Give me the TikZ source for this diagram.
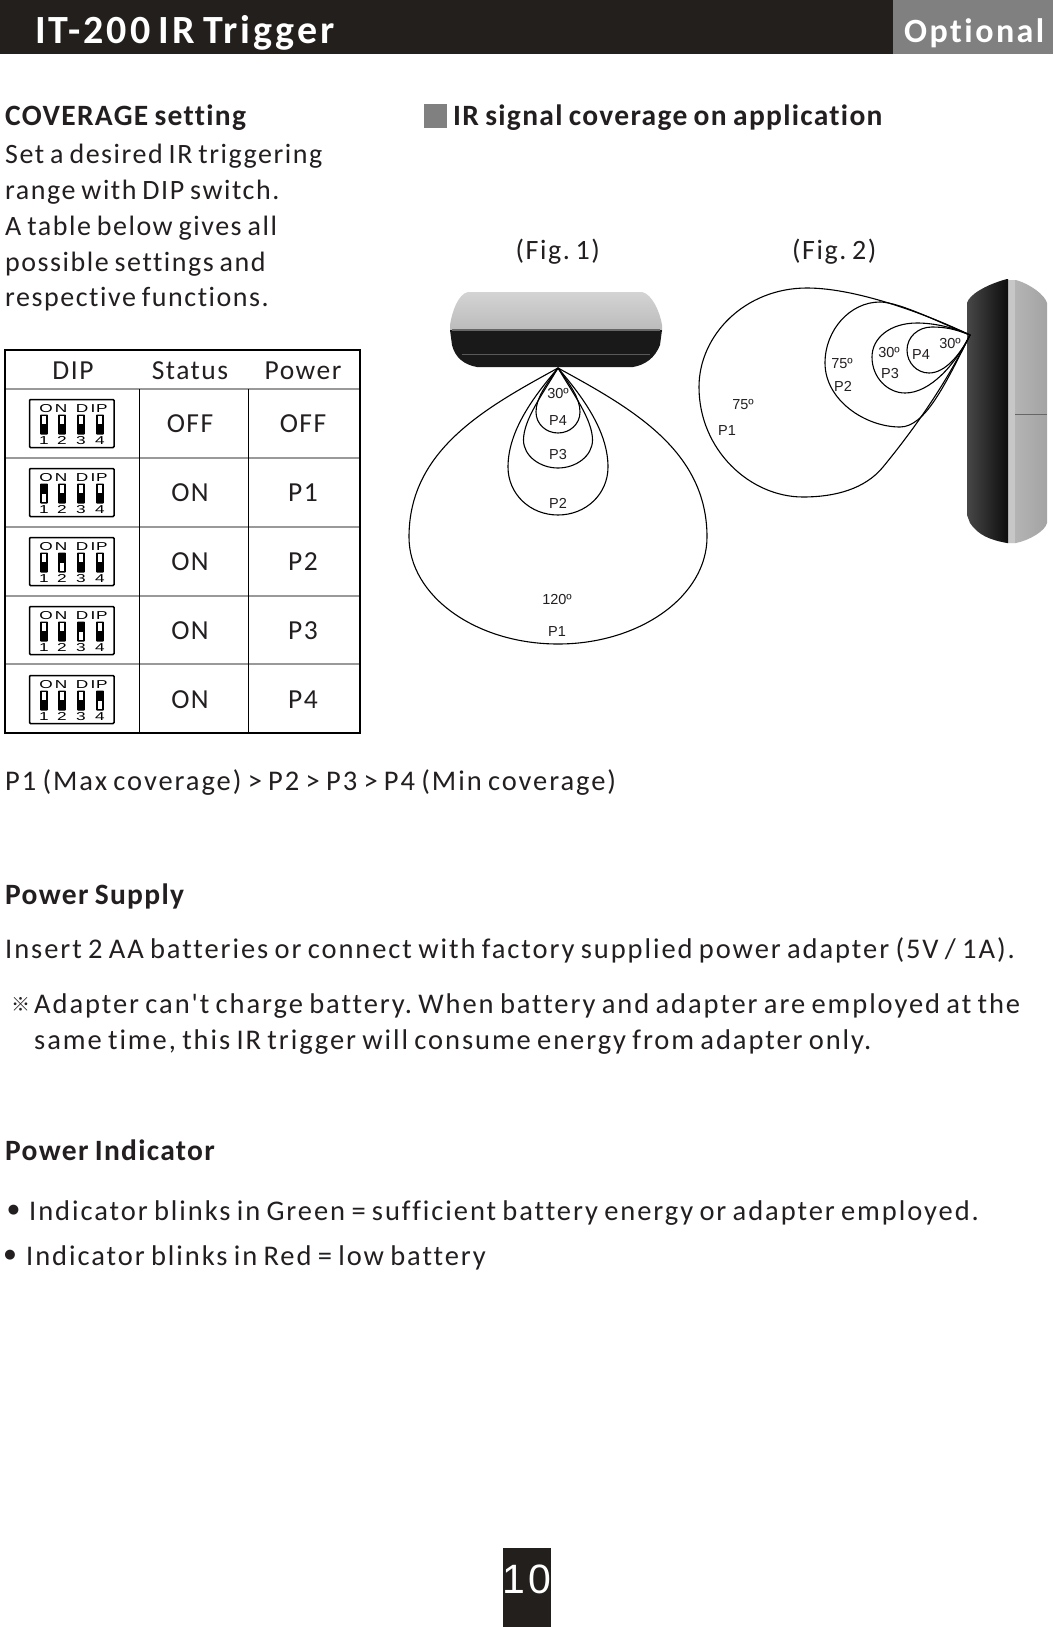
\documentclass[tikz,border=0pt]{standalone}
\usepackage{fontspec}
\frenchspacing
\newfontfamily\bodyfont{Carlito}[LetterSpace=5.5,WordSpace=0.75,Ligatures=NoCommon]
\newfontfamily\longfont{Carlito}[LetterSpace=6.8,WordSpace=0.75,Ligatures=NoCommon]
\newfontfamily\boldfont{Carlito Bold}[LetterSpace=4.4,WordSpace=0.8,Ligatures=NoCommon]
\newfontfamily\titlefont{Carlito Bold}[LetterSpace=7.2,WordSpace=0.7,Ligatures=NoCommon]
\newfontfamily\labelfont{Liberation Sans}
\newfontfamily\widefont{Liberation Sans}[LetterSpace=9]
\newfontfamily\symfont{DejaVu Sans}
\newfontfamily\cjkfont{Noto Sans CJK SC}
\definecolor{barblack}{HTML}{231F1C}
\definecolor{bargrey}{HTML}{808080}
\definecolor{inkc}{HTML}{231F20}
\usetikzlibrary{calc}
\tikzset{
  txt/.style={inner sep=0pt,anchor=base west,text=inkc,font=\frenchspacing\bodyfont\fontsize{28}{30}\selectfont},
  longtxt/.style={inner sep=0pt,anchor=base west,text=inkc,font=\frenchspacing\longfont\fontsize{28.5}{30}\selectfont},
  head/.style={inner sep=0pt,anchor=base west,text=inkc,font=\boldfont\fontsize{29.5}{32}\selectfont},
  cell/.style={inner sep=0pt,anchor=base,text=inkc,font=\bodyfont\fontsize{27.5}{30}\selectfont},
  lab/.style={inner sep=0pt,anchor=center,text=inkc,font=\labelfont\fontsize{14.5}{16}\selectfont},
  lobe/.style={draw=black,line width=1.1pt,line join=round},
  gridthin/.style={draw=black,line width=0.8pt},
  gridgrey/.style={draw=black!40,line width=1.3pt},
  diplab/.style={inner sep=0pt,anchor=center,text=black,font=\labelfont\fontsize{11.5}{13}\selectfont,xscale=1.5},
}
\newcommand{\dipsw}[3]{% name, top y, active switch number (0 none)
  \draw[line width=1.5pt,rounded corners=1pt] (29.5,#2) rectangle (114,#2+48);
  \node[diplab] (#1-o) at (46,#2+9) {O};
  \node[diplab] (#1-n) at (61,#2+9) {N};
  \node[diplab] (#1-d) at (82,#2+9) {D};
  \node[diplab] (#1-i) at (93,#2+9) {I};
  \node[diplab] (#1-p) at (102,#2+9) {P};
  \foreach \k/\xx in {1/44,2/62,3/81,4/100}{
    \fill[black,rounded corners=0.8pt] (\xx-3.9,#2+15) rectangle (\xx+3.9,#2+35);
    \ifnum\k=#3\relax
      \fill[white] (\xx-2.1,#2+25.5) rectangle (\xx+2.1,#2+33.5);
    \else
      \fill[white] (\xx-2.1,#2+16.5) rectangle (\xx+2.1,#2+24.5);
    \fi
    \node[diplab] (#1-s\k) at (\xx,#2+41) {\k};
  }
}
\begin{document}
\begin{tikzpicture}[x=1pt,y=-1pt]
\useasboundingbox (0,0) rectangle (1053,1627);
\fill[white] (0,0) rectangle (1053,1627);
% top bar
\fill[barblack] (0,0) rectangle (893,54);
\fill[bargrey] (893,0) rectangle (1053,54);
\node[inner sep=0pt,anchor=base west,text=white,font=\titlefont\fontsize{40}{44}\selectfont] (title) at (35,43.5) {IT-200 IR Trigger};
\node[inner sep=0pt,anchor=base west,text=white,font=\titlefont\fontsize{34}{38}\selectfont] (opt) at (904,42.5) {Optional};
% left text
\node[head] (cov) at (5,125.5) {COVERAGE setting};
\node[txt] (l1) at (5,163) {Set a desired IR triggering};
\node[txt] (l2) at (5,199) {range with DIP switch.};
\node[txt] (l3) at (5,235) {A table below gives all};
\node[txt] (l4) at (5,271) {possible settings and};
\node[txt] (l5) at (5,306) {respective functions.};
% right heading
\fill[bargrey] (424,104) rectangle (447,128);
\node[head] (irs) at (453,125.5) {IR signal coverage on application};
\node[txt] (f1) at (515.5,259) {(Fig. 1)};
\node[txt] (f2) at (792,259) {(Fig. 2)};
% table
\draw[gridgrey] (5,389) -- (360,389);
\foreach \yy in {458,527,596,664} \draw[gridgrey] (5,\yy) -- (360,\yy);
\draw[gridthin] (139,389) -- (139,733);
\draw[gridthin] (248,389) -- (248,733);
\draw[line width=1.5pt,black] (5,350) rectangle (360,733);
\node[cell] (hd) at (73,379) {DIP};
\node[cell] (hs) at (190,379) {Status};
\node[cell] (hp) at (303,379) {Power};
\node[cell] (s0) at (190,432) {OFF};  \node[cell] (p0) at (303,432) {OFF};
\node[cell] (s1) at (190,501) {ON};   \node[cell] (p1) at (303,501) {P1};
\node[cell] (s2) at (190,570) {ON};   \node[cell] (p2) at (303,570) {P2};
\node[cell] (s3) at (190,639) {ON};   \node[cell] (p3) at (303,639) {P3};
\node[cell] (s4) at (190,708) {ON};   \node[cell] (p4) at (303,708) {P4};
\dipsw{da}{399.5}{0}
\dipsw{db}{468.5}{1}
\dipsw{dc}{537.5}{2}
\dipsw{dd}{606.5}{3}
\dipsw{de}{675.5}{4}
% device fig 1
\path[top color=black!17,bottom color=black!27,draw=none]
  (468,292) -- (642,292) .. controls (652,294) and (660,312) .. (662,325) -- (662,332) -- (450,332) -- (450,325) .. controls (452,312) and (458,294) .. (468,292) -- cycle;
\fill[black!90] (450,330) -- (662,330) -- (660,345) .. controls (655,358) and (645,365) .. (633,367) -- (477,367) .. controls (465,365) and (455,358) .. (452,345) -- cycle;
\fill[black!60] (452,328.5) rectangle (660,330.5);
\draw[black!65,line width=.8pt] (462,354) -- (650,354);
% fig 1 lobes
\draw[lobe] (558,368) .. controls (485,408) and (409,450) .. (409,537) .. controls (409,596) and (476,644) .. (558,644) .. controls (640,644) and (707,596) .. (707,537) .. controls (707,450) and (631,408) .. (558,368) -- cycle;
\draw[lobe] (558,368) .. controls (535,395) and (508,430) .. (508,467) .. controls (508,494) and (530,515) .. (558,515) .. controls (586,515) and (608,494) .. (608,467) .. controls (608,430) and (581,395) .. (558,368) -- cycle;
\draw[lobe] (558,368) .. controls (542,395) and (523.5,420) .. (523.5,440) .. controls (523.5,456) and (540,468) .. (558,468) .. controls (576,468) and (592.5,456) .. (592.5,440) .. controls (592.5,420) and (574,395) .. (558,368) -- cycle;
\draw[lobe] (558,368) .. controls (546,385) and (536,398) .. (536,412) .. controls (536,424) and (546,433) .. (558,433) .. controls (570,433) and (580,424) .. (580,412) .. controls (580,398) and (570,385) .. (558,368) -- cycle;
\node[lab] (a30) at (558,393) {30º};
\node[lab] (ap4) at (558,421) {P4};
\node[lab] (ap3) at (558,455) {P3};
\node[lab] (ap2) at (558,503) {P2};
\node[lab] (a120) at (557,599) {120º};
\node[lab] (ap1) at (557,632) {P1};
% device fig 2
\path[left color=black!28,right color=black!36]
  (1008,280) -- (1016,280) .. controls (1030,284) and (1045,295) .. (1047,303) -- (1047,523) .. controls (1045,531) and (1030,540) .. (1016,543) -- (1008,543) -- cycle;
\fill[black!22] (1008,280) rectangle (1015,543);
\draw[black!60,line width=.8pt] (1015,414) -- (1047,414);
\path[left color=black!72,right color=black!95]
  (1007,279) -- (1008,279) -- (1008,543) -- (1007,543) .. controls (990,540) and (978,535) .. (970,523) -- (967,515) -- (967,303) .. controls (969,295) and (985,285) .. (1007,279) -- cycle;
% fig 2 lobes
\draw[lobe] (970,335) .. controls (935,318) and (860,288) .. (807,288) .. controls (745,288) and (699,335) .. (699,387) .. controls (699,450) and (750,497) .. (803,497) .. controls (835,497) and (865,489) .. (883,467) .. controls (915,428) and (945,385) .. (970,335) -- cycle;
\draw[lobe] (970,335) .. controls (945,325) and (900,302) .. (880,302) .. controls (850,302) and (825,330) .. (825,363) .. controls (825,400) and (865,427) .. (900,427) .. controls (925,427) and (945,385) .. (970,335) -- cycle;
\draw[lobe] (970,335) .. controls (955,328) and (935,323) .. (917,323) .. controls (890,323) and (872,338) .. (872,357) .. controls (872,378) and (888,393) .. (905,393) .. controls (930,393) and (955,365) .. (970,335) -- cycle;
\draw[lobe] (970,335) .. controls (955,329) and (945,327) .. (932,327) .. controls (918,327) and (907,337) .. (907,350) .. controls (907,363) and (917,373) .. (929,373) .. controls (945,373) and (960,355) .. (970,335) -- cycle;
\node[lab] (b30a) at (950,343) {30º};
\node[lab] (bp4) at (921,355) {P4};
\node[lab] (b30b) at (889,352) {30º};
\node[lab] (bp3) at (890,374) {P3};
\node[lab] (b75a) at (842,363) {75º};
\node[lab] (bp2) at (843,386) {P2};
\node[lab] (b75b) at (743,404) {75º};
\node[lab] (bp1) at (727,431) {P1};
% body
\node[longtxt] (cmp) at (5,790) {P1 (Max coverage) > P2 > P3 > P4 (Min coverage)};
\node[head] (ps) at (5,904) {Power Supply};
\node[longtxt] (ins) at (5,958.5) {Insert 2 AA batteries or connect with factory supplied power adapter (5V / 1A).};
\node[inner sep=0pt,anchor=base west,text=inkc,font=\cjkfont\fontsize{19}{22}\selectfont] (mark) at (11,1011) {※};
\node[longtxt] (ad1) at (34,1013) {Adapter can't charge battery. When battery and adapter are employed at the};
\node[longtxt] (ad2) at (34,1049) {same time, this IR trigger will consume energy from adapter only.};
\node[head] (pi) at (5,1160) {Power Indicator};
\node[inner sep=0pt,anchor=center,text=inkc,font=\symfont\fontsize{13}{16}\selectfont] (b1) at (13.5,1210) {●};
\node[longtxt] (i1) at (29,1220) {Indicator blinks in Green = sufficient battery energy or adapter employed.};
\node[inner sep=0pt,anchor=center,text=inkc,font=\symfont\fontsize{13}{16}\selectfont] (b2) at (10,1255) {●};
\node[longtxt] (i2) at (26,1265) {Indicator blinks in Red = low battery};
% page number
\fill[barblack] (503,1548) rectangle (551,1627);
\node[inner sep=0pt,anchor=center,text=white,font=\widefont\fontsize{41}{44}\selectfont] (pg) at (527,1579) {10};
\end{tikzpicture}
\end{document}
